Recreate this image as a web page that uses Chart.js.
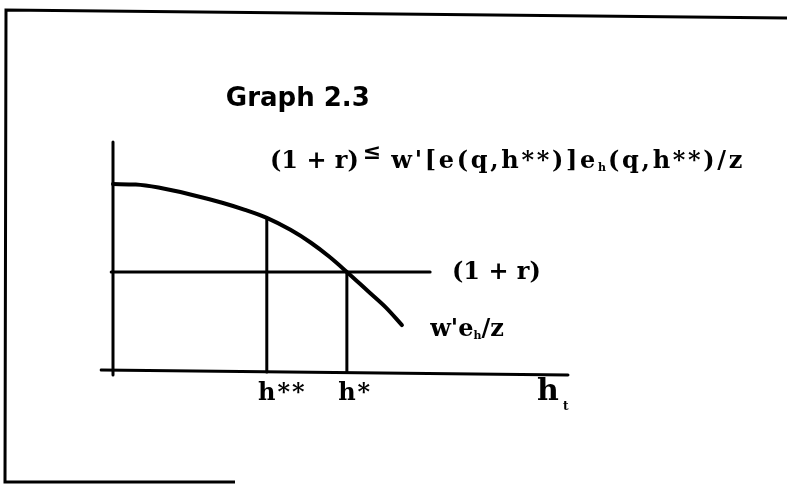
<!DOCTYPE html>
<html>
<head>
<meta charset="utf-8">
<script src="https://cdn.jsdelivr.net/npm/chart.js@4"></script>
<style>
  html, body { margin: 0; padding: 0; background: #fff; }
  #wrap { width: 787px; height: 485px; }
</style>
</head>
<body>
<div id="wrap"><canvas id="graph" width="787" height="485"></canvas></div>
<script>
// curve w'e_h/z
const curveX = [0, 0.5, 1.0, 1.7, 2.4, 2.9, 3.38, 3.9, 4.35, 4.75, 5.14, 5.6, 6.0, 6.35];
const curveY = [8.17, 8.15, 8.02, 7.72, 7.36, 7.05, 6.70, 6.18, 5.62, 5.02, 4.35, 3.52, 2.80, 2.04];

// horizontal (1 + r) line
const rateLevel = 4.35;
const rateSpan  = [-0.04, 6.97];

// drop lines h** and h*
const markX      = [3.38, 5.14];
const markTop    = [6.70, 4.35];
const markLabels = ['h**', 'h*'];

// axes
const axisX = [-0.26, 10];
const axisY = [-0.13, 10];

const titleText = 'Graph 2.3';

// ───────────────────────────────────────────────────────────────────────────

const SERIF = '"DejaVu Serif", serif';
const ink = '#000';

function line(points, width) {
  return {
    data: points,
    borderColor: ink,
    borderWidth: width || 3,
    pointRadius: 0,
    borderCapStyle: 'round',
    fill: false,
  };
}

const datasets = [
  Object.assign(line(curveX.map((x, i) => ({ x, y: curveY[i] })), 4), {
    cubicInterpolationMode: 'monotone',
  }),
  line(rateSpan.map(x => ({ x, y: rateLevel }))),
  ...markX.map((x, i) => line([{ x, y: 0 }, { x, y: markTop[i] }])),
  line([{ x: axisX[0], y: 0.09 }, { x: axisX[1], y: -0.13 }]),
  line([{ x: 0, y: axisY[1] }, { x: 0, y: axisY[0] }]),
];

// run of text pieces, left to right
function drawRun(ctx, x, y, parts) {
  parts.forEach(p => {
    ctx.font = p.font;
    ctx.letterSpacing = p.ls || '0px';
    x += p.gap || 0;
    ctx.fillText(p.t, x, y + (p.dy || 0));
    x += ctx.measureText(p.t).width;
  });
  ctx.letterSpacing = '0px';
}

const frame = {
  id: 'frame',
  beforeDraw(chart) {
    const { ctx, width, height } = chart;
    ctx.save();
    ctx.fillStyle = '#fff';
    ctx.fillRect(0, 0, width, height);
    ctx.strokeStyle = ink;
    ctx.lineWidth = 3;
    ctx.beginPath();
    ctx.moveTo(width, 18);
    ctx.lineTo(6, 10);
    ctx.lineTo(5, height - 3);
    ctx.lineTo(235, height - 3);
    ctx.stroke();
    ctx.restore();
  }
};

const labels = {
  id: 'labels',
  afterDraw(chart) {
    const { ctx } = chart;
    const xs = chart.scales.x, ys = chart.scales.y;
    const px = v => xs.getPixelForValue(v);
    const py = v => ys.getPixelForValue(v);
    const big = 'bold 24px ' + SERIF;
    const sub = 'bold 11px ' + SERIF;
    ctx.save();
    ctx.fillStyle = ink;
    ctx.textBaseline = 'alphabetic';
    ctx.textAlign = 'left';

    // title
    ctx.font = 'bold 26px "DejaVu Sans", sans-serif';
    ctx.fillText(titleText, px(2.48), py(11.57));

    // condition above the graph
    drawRun(ctx, px(3.45), py(8.87), [
      { t: '(1 + r)', font: big },
      { t: '\u2264', font: 'bold 22px ' + SERIF, gap: 4, dy: -9 },
      { t: "w'[e(q,h**)]e", font: big, gap: 10, ls: '2.7px' },
      { t: 'h', font: sub, dy: 3 },
      { t: '(q,h**)/z', font: big, gap: 2, ls: '2.7px' },
    ]);

    // labels at the drop lines
    markX.forEach((x, i) => {
      ctx.font = big;
      const hw = ctx.measureText('h').width;
      ctx.letterSpacing = '2px';
      ctx.fillText(markLabels[i], px(x) - hw / 2, py(-1.22));
      ctx.letterSpacing = '0px';
    });

    // (1 + r) at the end of the rate line
    ctx.font = big;
    ctx.fillText('(1 + r)', px(7.45), py(4.04));

    // curve label
    drawRun(ctx, px(6.97), py(1.57), [
      { t: "w'e", font: big },
      { t: 'h', font: sub, dy: 3 },
      { t: '/z', font: big },
    ]);

    // axis name h_t
    ctx.font = 'bold 30px ' + SERIF;
    ctx.fillText('h', px(9.32), py(-1.22));
    ctx.font = 'bold 12px ' + SERIF;
    ctx.fillText('t', px(9.89), py(-1.65));
    ctx.restore();
  }
};

new Chart(document.getElementById('graph'), {
  type: 'line',
  data: { datasets },
  options: {
    responsive: false,
    animation: false,
    devicePixelRatio: 1,
    layout: { padding: { left: 67.5, right: 173.5, top: 119, bottom: 90 } },
    plugins: { legend: { display: false }, tooltip: { enabled: false }, title: { display: false } },
    scales: {
      x: { type: 'linear', min: -1, max: 11, display: false },
      y: { type: 'linear', min: -1, max: 11, display: false },
    },
  },
  plugins: [frame, labels],
});
</script>
</body>
</html>
